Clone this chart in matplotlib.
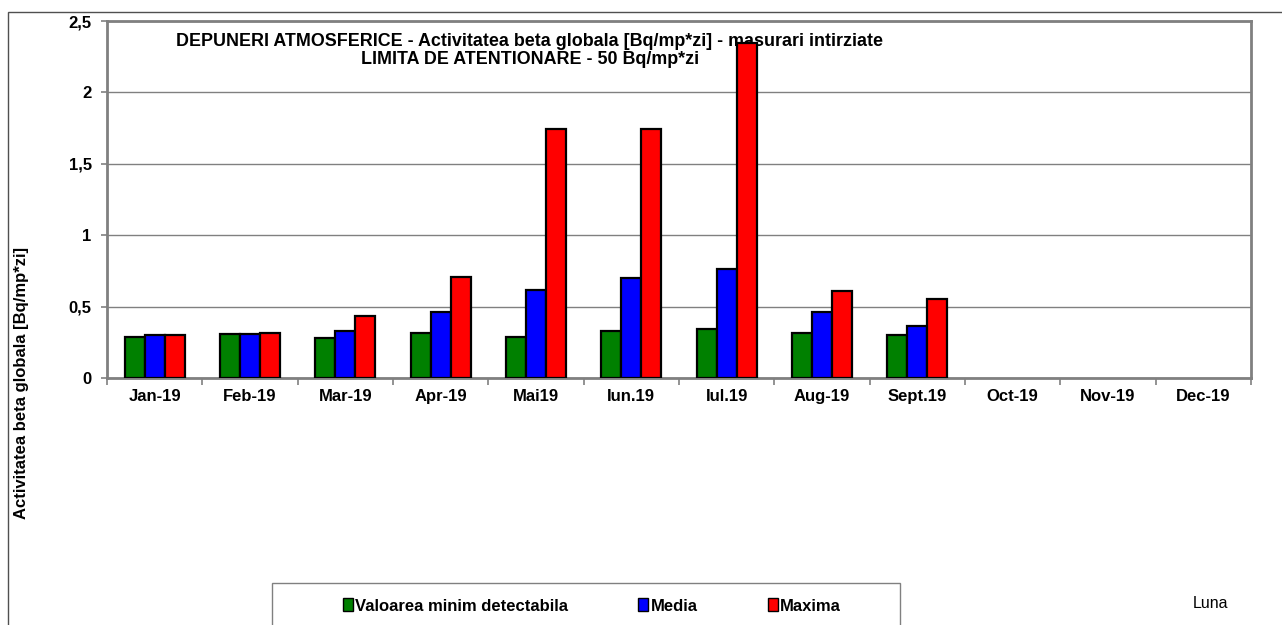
import matplotlib
matplotlib.use("Agg")
import matplotlib.pyplot as plt
import numpy as np
from matplotlib.patches import Rectangle, Patch
from matplotlib.ticker import FuncFormatter, FixedLocator

plt.rcParams["font.family"] = ["Liberation Sans", "DejaVu Sans"]

months = ["Jan-19", "Feb-19", "Mar-19", "Apr-19", "Mai19", "Iun.19",
          "Iul.19", "Aug-19", "Sept.19", "Oct-19", "Nov-19", "Dec-19"]
min_detect = [0.29, 0.305, 0.28, 0.313, 0.29, 0.33, 0.34, 0.313, 0.303, 0, 0, 0]
media = [0.298, 0.305, 0.33, 0.46, 0.614, 0.702, 0.762, 0.46, 0.364, 0, 0, 0]
maxima = [0.302, 0.312, 0.434, 0.708, 1.742, 1.742, 2.345, 0.611, 0.551, 0, 0, 0]
y_ticks = [0, 0.5, 1, 1.5, 2, 2.5]

series = [
    ("Valoarea minim detectabila", min_detect, "#008000"),
    ("Media", media, "#0000ff"),
    ("Maxima", maxima, "#ff0000"),
]

W, H = 1282, 625
fig = plt.figure(figsize=(W / 100, H / 100), dpi=100)
ax = fig.add_axes([107 / W, 1 - 378 / H, (1251 - 107) / W, (378 - 21) / H])

x = np.arange(len(months))
bw = 0.21
n_valid = 9  # only months with data get bars
for i, (name, vals, col) in enumerate(series):
    ax.bar(x[:n_valid] + (i - 1) * bw, vals[:n_valid], width=bw, color=col,
           edgecolor="black", linewidth=1.6, zorder=3, label=name)

ax.set_xlim(-0.5, len(months) - 0.5)
ax.set_ylim(0, 2.5)
ax.set_yticks(y_ticks)
ax.yaxis.set_major_formatter(FuncFormatter(lambda v, p: f"{v:g}".replace(".", ",")))
ax.yaxis.grid(True, color="#808080", linewidth=1.0, zorder=0)

ax.set_xticks(x)
ax.set_xticklabels(months, fontsize=12, fontweight="bold")
for lab in ax.get_xticklabels():
    lab.set_verticalalignment("center_baseline")
ax.xaxis.set_minor_locator(FixedLocator(np.arange(-0.5, len(months), 1)))
ax.tick_params(axis="x", which="major", length=0, pad=12)
ax.tick_params(axis="x", which="minor", length=5, color="#808080", width=1.2)
ax.tick_params(axis="y", length=4, color="#808080", width=1.2, labelsize=12, pad=7)
for lab in ax.get_yticklabels():
    lab.set_fontweight("bold")

for side in ["left", "right", "top", "bottom"]:
    ax.spines[side].set_color("#808080")
    ax.spines[side].set_linewidth(2)

ax.set_ylabel("Activitatea beta globala [Bq/mp*zi]", fontsize=12, fontweight="bold")
ax.yaxis.set_label_coords((29 - 107) / (1251 - 107), (378 - 383) / (378 - 21))

# title inside the plot, behind the bars
ax.text(530 / W, 1 - 41 / H, "DEPUNERI ATMOSFERICE - Activitatea beta globala [Bq/mp*zi] - masurari intirziate",
        transform=fig.transFigure, ha="center", va="center", fontsize=12.9,
        fontweight="bold", zorder=1)
ax.text(530 / W, 1 - 60 / H, "LIMITA DE ATENTIONARE - 50 Bq/mp*zi",
        transform=fig.transFigure, ha="center", va="center", fontsize=12.9,
        fontweight="bold", zorder=1)

# outer chart border
fig.patches.append(Rectangle((8 / W, -0.2), 1.2, 1 - 12 / H + 0.2, transform=fig.transFigure,
                             fill=False, edgecolor="#505050", linewidth=1.0))

# legend box
fig.patches.append(Rectangle((272 / W, -0.2), (900 - 272) / W, 0.2 + 1 - 583 / H,
                             transform=fig.transFigure, fill=False,
                             edgecolor="#808080", linewidth=1.0))
handles = [Patch(facecolor=c, edgecolor="black", linewidth=1.0, label=n) for n, _, c in series]
fig.legend(handles=handles, loc="center", bbox_to_anchor=(592 / W, 1 - 606 / H),
           ncol=3, frameon=False, prop={"weight": "bold", "size": 12},
           handlelength=0.6, handleheight=0.8, handletextpad=0.15, columnspacing=4.2)

fig.text(1210 / W, 1 - 603 / H, "Luna", ha="center", va="center", fontsize=11.5)

fig.savefig("out.png", dpi=100)
